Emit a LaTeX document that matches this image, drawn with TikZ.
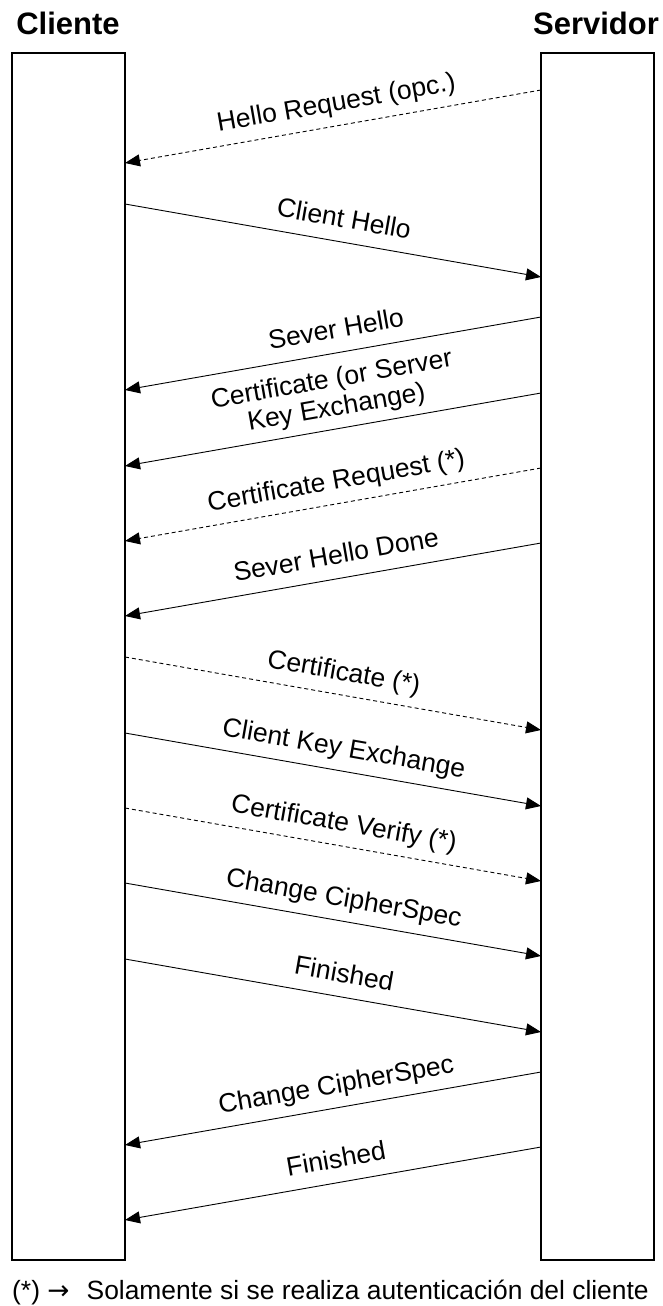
\documentclass[tikz,border=0pt]{standalone}
\usepackage{fontspec}
\setmainfont{Liberation Sans}
\newfontfamily\arrowfont{DejaVu Sans}
\usetikzlibrary{arrows.meta}
\begin{document}
\begin{tikzpicture}[x=1pt, y=-1pt,
  party/.style={draw, line width=1.6pt, minimum width=113pt, minimum height=1207pt, inner sep=0pt},
  heading/.style={font=\fontsize{31}{34}\selectfont\bfseries, anchor=base},
  msg/.style={line width=0.9pt, -{Triangle[length=15pt, width=12pt]}},
  optmsg/.style={msg, dash pattern=on 4pt off 3pt},
  lbl/.style={font=\fontsize{26.5}{28.5}\selectfont, sloped, anchor=south, inner sep=5.5pt,
              execute at begin node=\strut},
  torgt/.style={lbl, pos=0.517},
  tolft/.style={lbl, pos=0.483}
]
\useasboundingbox (0,0) rectangle (663,1306);

% the two parties
\node[party] (cli) at (68.5,656.5) {};
\node[party] (srv) at (597.5,656.5) {};
\node[heading] (tcli) at (68,35) {Cliente};
\node[heading] (tsrv) at (596,35) {Servidor};

% end points of the messages on the box edges
\coordinate (s1) at (541,90);    \coordinate (c1) at (125,163);
\coordinate (c2) at (125,204);   \coordinate (s2) at (541,277);
\coordinate (s3) at (541,317);   \coordinate (c3) at (125,390);
\coordinate (s4) at (541,393);   \coordinate (c4) at (125,466);
\coordinate (s5) at (541,468);   \coordinate (c5) at (125,541);
\coordinate (s6) at (541,543);   \coordinate (c6) at (125,616);
\coordinate (c7) at (125,657);   \coordinate (s7) at (541,730);
\coordinate (c8) at (125,733);   \coordinate (s8) at (541,806);
\coordinate (c9) at (125,808);   \coordinate (s9) at (541,881);
\coordinate (c10) at (125,883);  \coordinate (s10) at (541,956);
\coordinate (c11) at (125,959);  \coordinate (s11) at (541,1032);
\coordinate (s12) at (541,1072); \coordinate (c12) at (125,1145);
\coordinate (s13) at (541,1147); \coordinate (c13) at (125,1220);

% handshake messages
\draw[optmsg] (s1) -- (c1) node[tolft] (m1) {Hello Request (opc.)};
\draw[msg] (c2) -- (s2) node[torgt] (m2) {Client Hello};
\draw[msg] (s3) -- (c3) node[tolft] (m3) {Sever Hello};
\draw[msg] (s4) -- (c4) node[tolft, align=center, inner sep=4pt] (m4) {Certificate (or Server\\Key Exchange)\strut};
\draw[optmsg] (s5) -- (c5) node[tolft] (m5) {Certificate Request (*)};
\draw[msg] (s6) -- (c6) node[tolft] (m6) {Sever Hello Done};
\draw[optmsg] (c7) -- (s7) node[torgt] (m7) {Certificate (*)};
\draw[msg] (c8) -- (s8) node[torgt] (m8) {Client Key Exchange};
\draw[optmsg] (c9) -- (s9) node[torgt] (m9) {Certificate Verify (*)};
\draw[msg] (c10) -- (s10) node[torgt] (m10) {Change CipherSpec};
\draw[msg] (c11) -- (s11) node[torgt] (m11) {Finished};
\draw[msg] (s12) -- (c12) node[tolft] (m12) {Change CipherSpec};
\draw[msg] (s13) -- (c13) node[tolft] (m13) {Finished};

% footnote
\node[font=\fontsize{26.4}{28}\selectfont, anchor=base west, inner sep=0pt] (nota) at (12,1299)
  {(*) {\arrowfont →}\hspace{0.65em}Solamente si se realiza autenticación del cliente};
\end{tikzpicture}
\end{document}
